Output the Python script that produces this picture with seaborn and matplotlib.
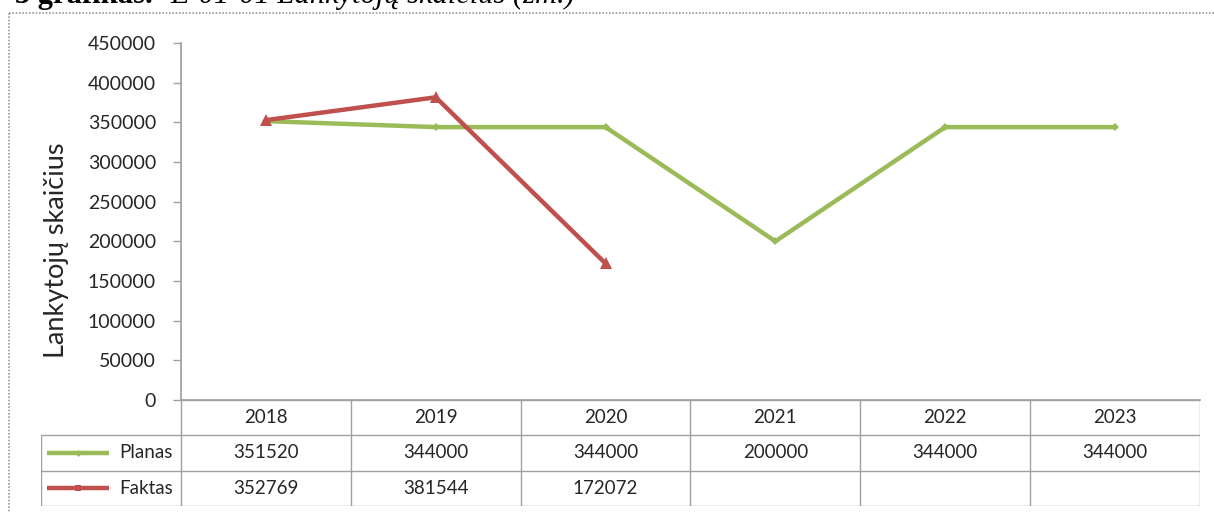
import numpy as np
import pandas as pd
import seaborn as sns
import matplotlib.pyplot as plt
from matplotlib.lines import Line2D

# duomenys
metai = ['2018', '2019', '2020', '2021', '2022', '2023']
planas = [351520, 344000, 344000, 200000, 344000, 344000]
faktas = [352769, 381544, 172072, np.nan, np.nan, np.nan]
eilutes = ['Planas', 'Faktas']
yticks = list(range(0, 450001, 50000))

zalia = '#9BBB59'
raudona = '#C0504D'
pilka = '#A0A0A0'
tekstas = '#262626'

sns.set_theme(style='white')
plt.rcParams['font.family'] = ['Lato', 'DejaVu Sans']

W, H = 1214, 513
fig = plt.figure(figsize=(W / 100, H / 100), dpi=100)

df = pd.DataFrame({'Metai': metai, 'Planas': planas, 'Faktas': faktas})

ax = fig.add_axes([181 / W, 1 - 400 / H, (1200 - 181) / W, (400 - 43) / H])
sns.lineplot(data=df, x='Metai', y='Planas', ax=ax, color=zalia, linewidth=3.2,
             marker='D', markersize=4.5, markeredgewidth=0, sort=False)
sns.lineplot(data=df.dropna(), x='Metai', y='Faktas', ax=ax, color=raudona, linewidth=3.2,
             marker='^', markersize=8, markeredgewidth=0, sort=False)

ax.set_xlim(-0.5, len(metai) - 0.5)
ax.set_ylim(0, 450000)
ax.set_yticks(yticks)
ax.set_yticklabels([str(v) for v in yticks], fontsize=14, color=tekstas)
ax.set_xticks([])
ax.set_xlabel('')
ax.set_ylabel('Lankytojų skaičius', fontsize=19.5, color=tekstas)
ax.yaxis.set_label_coords(-0.11, 0.42)
ax.tick_params(axis='y', length=6, width=1, color=pilka, direction='out', pad=12, left=True)
for s in ['top', 'right']:
    ax.spines[s].set_visible(False)
ax.spines['left'].set_color(pilka)
ax.spines['bottom'].set_color(pilka)
ax.patch.set_alpha(0)

# duomenų lentelė po grafiku
unit = (1200 - 181) / len(metai)
lbl_w = (181 - 41) / unit
tax = fig.add_axes([41 / W, 1 - 506 / H, (1200 - 41) / W, 106 / H])
x0 = -0.5 - lbl_w
tax.set_xlim(x0, len(metai) - 0.5)
tax.set_ylim(3, 0)
tax.axis('off')

kw = dict(color=pilka, linewidth=1)
tax.plot([-0.5, len(metai) - 0.5], [0, 0], **kw)
for yy in [1, 2, 3]:
    tax.plot([x0, len(metai) - 0.5], [yy, yy], **kw)
for i in range(len(metai) + 1):
    tax.plot([i - 0.5, i - 0.5], [0, 3], **kw)
tax.plot([x0, x0], [1, 3], **kw)

for i, m in enumerate(metai):
    tax.text(i, 0.5, m, ha='center', va='center', fontsize=13.5, color=tekstas)
    for r, vals in enumerate([planas, faktas]):
        v = vals[i]
        if not np.isnan(v):
            tax.text(i, r + 1.5, f'{int(v)}', ha='center', va='center', fontsize=13.5, color=tekstas)

for r, (nm, col, mk, ms) in enumerate([(eilutes[0], zalia, 'D', 3.5), (eilutes[1], raudona, 's', 4.5)]):
    yy = r + 1.5
    tax.plot([x0 + 6 / unit, x0 + 68 / unit], [yy, yy], color=col, linewidth=3.2, solid_capstyle='butt')
    tax.plot([x0 + 37 / unit], [yy], marker=mk, color=col, markersize=ms, markeredgewidth=0)
    tax.text(-0.5 - 8 / unit, yy, nm, ha='right', va='center', fontsize=13.5, color=tekstas)

# punktyrinis rėmelis
fig.add_artist(Line2D([9 / W, 1], [1 - 13 / H, 1 - 13 / H], transform=fig.transFigure,
                      color='#9A9A9A', linewidth=1.2, linestyle=(0, (1, 1))))
fig.add_artist(Line2D([9 / W, 9 / W], [1 - 13 / H, 0], transform=fig.transFigure,
                      color='#9A9A9A', linewidth=1.2, linestyle=(0, (1, 1))))

# nukirptas pavadinimas viršuje
fig.text(15 / W, 1 - 3 / H, '3 grafikas.', fontsize=22, fontweight='bold',
         family='Liberation Serif', va='baseline', ha='left', color='black')
fig.text(170 / W, 1 - 3 / H, 'E-01-01 Lankytojų skaičius (žm.)', fontsize=22, style='italic',
         family='Liberation Serif', va='baseline', ha='left', color='black')

fig.savefig('out.png', dpi=100)
